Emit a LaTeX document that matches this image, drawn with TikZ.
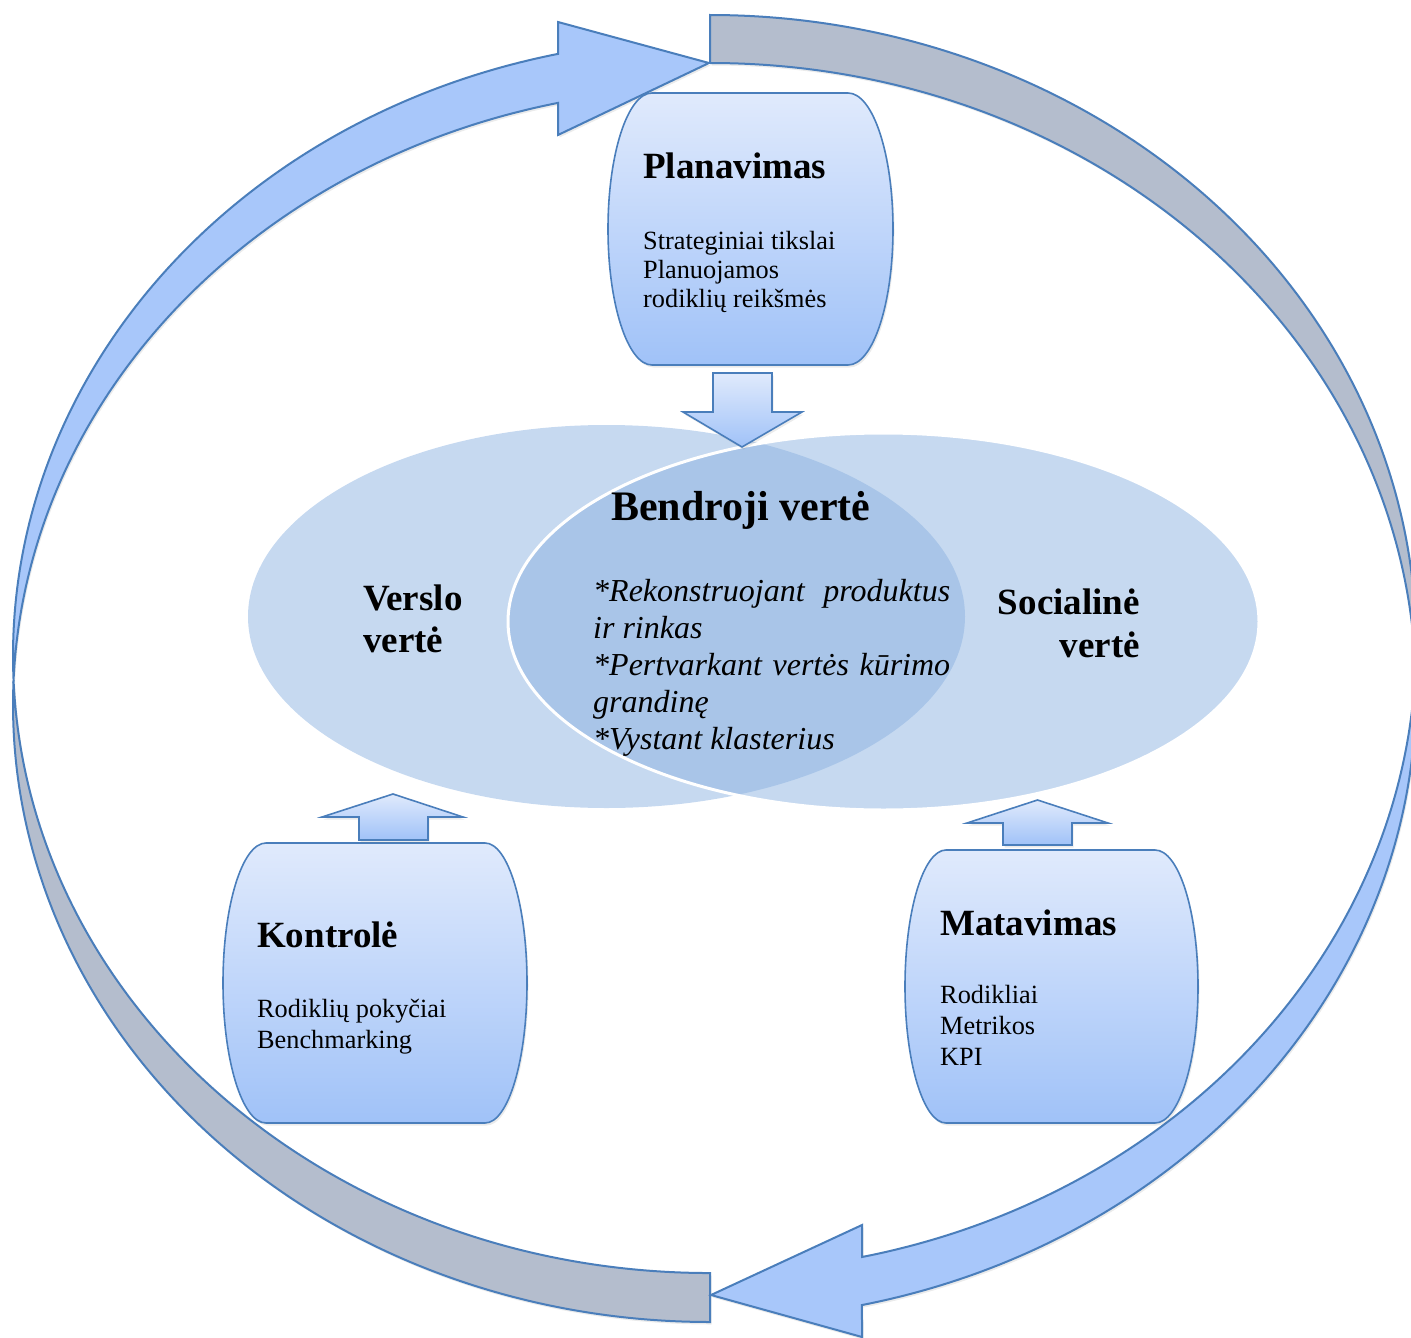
\documentclass[tikz,border=0pt]{standalone}
\usepackage{fontspec}
\setmainfont{Liberation Serif}
\usetikzlibrary{shapes.geometric,shadows}

\definecolor{lineblue}{RGB}{74,126,187}
\definecolor{ringblue}{RGB}{168,199,250}
\definecolor{ringgray}{RGB}{180,189,205}
\definecolor{boxtop}{RGB}{224,234,252}
\definecolor{boxbot}{RGB}{160,194,248}
\definecolor{vennlight}{RGB}{198,217,240}
\definecolor{venntint}{RGB}{141,179,225}

\tikzset{
  softshadow/.style={drop shadow={opacity=0.16, shadow xshift=1.5pt, shadow yshift=-2.5pt}},
  ringarrow/.style={fill=ringblue, draw=lineblue, line width=2pt, line join=miter, softshadow},
  ringtail/.style={fill=ringgray, draw=lineblue, line width=2pt, line join=miter, softshadow},
  stagebox/.style={top color=boxtop, bottom color=boxbot, draw=lineblue, line width=1.6pt, softshadow},
  blockarrow/.style={top color=boxtop, bottom color=boxbot, draw=lineblue, line width=1.6pt, line join=miter, softshadow},
  headtext/.style={anchor=base west, inner sep=0pt, font=\bfseries\fontsize{37}{42}\selectfont},
  itemtext/.style={anchor=base west, inner sep=0pt, font=\fontsize{26.3}{30.5}\selectfont},
  valuetext/.style={inner sep=0pt, font=\bfseries\fontsize{37}{42}\selectfont},
  waytext/.style={anchor=base west, inner sep=0pt, font=\itshape\fontsize{32}{37}\selectfont},
}

\begin{document}
\begin{tikzpicture}[x=1pt,y=-1pt]
\useasboundingbox (0,0) rectangle (1411,1338);

% Left curved arrow: two equal ellipses (radii 697 x 617) centred on x = 710,
% the upper one at y = 656, the lower one at y = 705; they cross at y = 680.5.
\pgfmathsetmacro{\lcross}{asin(24.5/617)}
\pgfmathsetmacro{\lnotch}{180+acos(152/697)}
% grey back part, bottom left
\filldraw[ringtail] (710,1322)
  arc[start angle=90, end angle={180+\lcross}, x radius=697, y radius=617]
  arc[start angle={180-\lcross}, end angle=90, x radius=697, y radius=617] -- cycle;
% blue front part with its head, top left
\filldraw[ringarrow] ({710-697*cos(\lcross)},680.5)
  arc[start angle={180-\lcross}, end angle=\lnotch, x radius=697, y radius=617]
  -- (558,22) -- (709,63) -- (558,135) -- (558,102.9)
  arc[start angle=\lnotch, end angle={180+\lcross}, x radius=697, y radius=617] -- cycle;

% Right curved arrow: ellipses of radii 706 x 628.4 centred on x = 710,
% the upper one at y = 643.4, the lower one at y = 691.4; they cross at y = 667.4.
\pgfmathsetmacro{\rcross}{asin(24/628.4)}
\pgfmathsetmacro{\rnotch}{acos(152/706)}
% grey back part, top right
\filldraw[ringtail] (710,15)
  arc[start angle=270, end angle={360+\rcross}, x radius=706, y radius=628.4]
  arc[start angle={-\rcross}, end angle=-90, x radius=706, y radius=628.4] -- cycle;
% blue front part with its head, bottom right
\filldraw[ringarrow] ({710+706*cos(\rcross)},667.4)
  arc[start angle={-\rcross}, end angle=\rnotch, x radius=706, y radius=628.4]
  -- (862,1337) -- (711,1295) -- (862,1225) -- (862,1257)
  arc[start angle=\rnotch, end angle=\rcross, x radius=706, y radius=628.4] -- cycle;

% value ellipses
\node[ellipse, fill=vennlight, minimum width=717pt, minimum height=383pt, inner sep=0pt] (verslo) at (606.5,616.5) {};
\node[ellipse, fill=venntint, fill opacity=0.5, draw=white, line width=3pt,
      minimum width=751pt, minimum height=377pt, inner sep=0pt] (social) at (883.5,621.5) {};

% stage boxes (straight top and bottom, elliptic sides)
\node[minimum width=285pt, minimum height=272pt, inner sep=0pt] (plan) at (750.5,229) {};
\filldraw[stagebox] (652,93) -- (848,93) arc[start angle=-90, end angle=90, x radius=45, y radius=136]
  -- (652,365) arc[start angle=90, end angle=270, x radius=44, y radius=136] -- cycle;

\node[minimum width=304pt, minimum height=280pt, inner sep=0pt] (kontr) at (375,983) {};
\filldraw[stagebox] (266,843) -- (485,843) arc[start angle=-90, end angle=90, x radius=42, y radius=140]
  -- (266,1123) arc[start angle=90, end angle=270, x radius=43, y radius=140] -- cycle;

\node[minimum width=293pt, minimum height=273pt, inner sep=0pt] (matav) at (1051.5,986.5) {};
\filldraw[stagebox] (946,850) -- (1155,850) arc[start angle=-90, end angle=90, x radius=43, y radius=136.5]
  -- (946,1123) arc[start angle=90, end angle=270, x radius=41, y radius=136.5] -- cycle;

% block arrows between the stages and the values
\coordinate (plantip) at (742,447);
\filldraw[blockarrow] (plantip) -- (802,412) -- (772,412) -- (772,373) -- (713,373) -- (713,412) -- (683,412) -- cycle;
\coordinate (kontrtip) at (393,794);
\filldraw[blockarrow] (kontrtip) -- (463,817) -- (428,817) -- (428,840) -- (359,840) -- (359,817) -- (322,817) -- cycle;
\coordinate (matavtip) at (1037.5,800);
\filldraw[blockarrow] (matavtip) -- (1108,823) -- (1072,823) -- (1072,845) -- (1003,845) -- (1003,823) -- (967,823) -- cycle;

% texts of the stages
\node[headtext] (planhead) at (643,178.5) {Planavimas};
\node[itemtext] (plan1) at (643,249.5) {Strateginiai tikslai};
\node[itemtext] (plan2) at (643,278) {Planuojamos};
\node[itemtext] (plan3) at (643,307) {rodiklių reikšmės};

\node[headtext] (kontrhead) at (257,947) {Kontrolė};
\node[itemtext] (kontr1) at (257,1017) {Rodiklių pokyčiai};
\node[itemtext] (kontr2) at (257,1048) {Benchmarking};

\node[headtext] (matavhead) at (940,935) {Matavimas};
\node[itemtext] (matav1) at (940,1003) {Rodikliai};
\node[itemtext] (matav2) at (940,1034) {Metrikos};
\node[itemtext] (matav3) at (940,1065) {KPI};

% texts of the values
\node[valuetext, anchor=base west] (verslo1) at (363,610) {Verslo};
\node[valuetext, anchor=base west] (verslo2) at (363,652) {vertė};
\node[valuetext, anchor=base east] (social1) at (1140,614) {Socialinė};
\node[valuetext, anchor=base east] (social2) at (1140,657) {vertė};

\node[inner sep=0pt, anchor=base west, font=\bfseries\fontsize{42}{48}\selectfont] (shared) at (611,520) {Bendroji vertė};
\node[waytext] (way1) at (593,601) {\makebox[357pt][s]{*Rekonstruojant produktus}};
\node[waytext] (way2) at (593,638) {ir rinkas};
\node[waytext] (way3) at (593,675) {\makebox[357pt][s]{*Pertvarkant vertės kūrimo}};
\node[waytext] (way4) at (593,712) {grandinę};
\node[waytext] (way5) at (593,749) {*Vystant klasterius};
\end{tikzpicture}
\end{document}
